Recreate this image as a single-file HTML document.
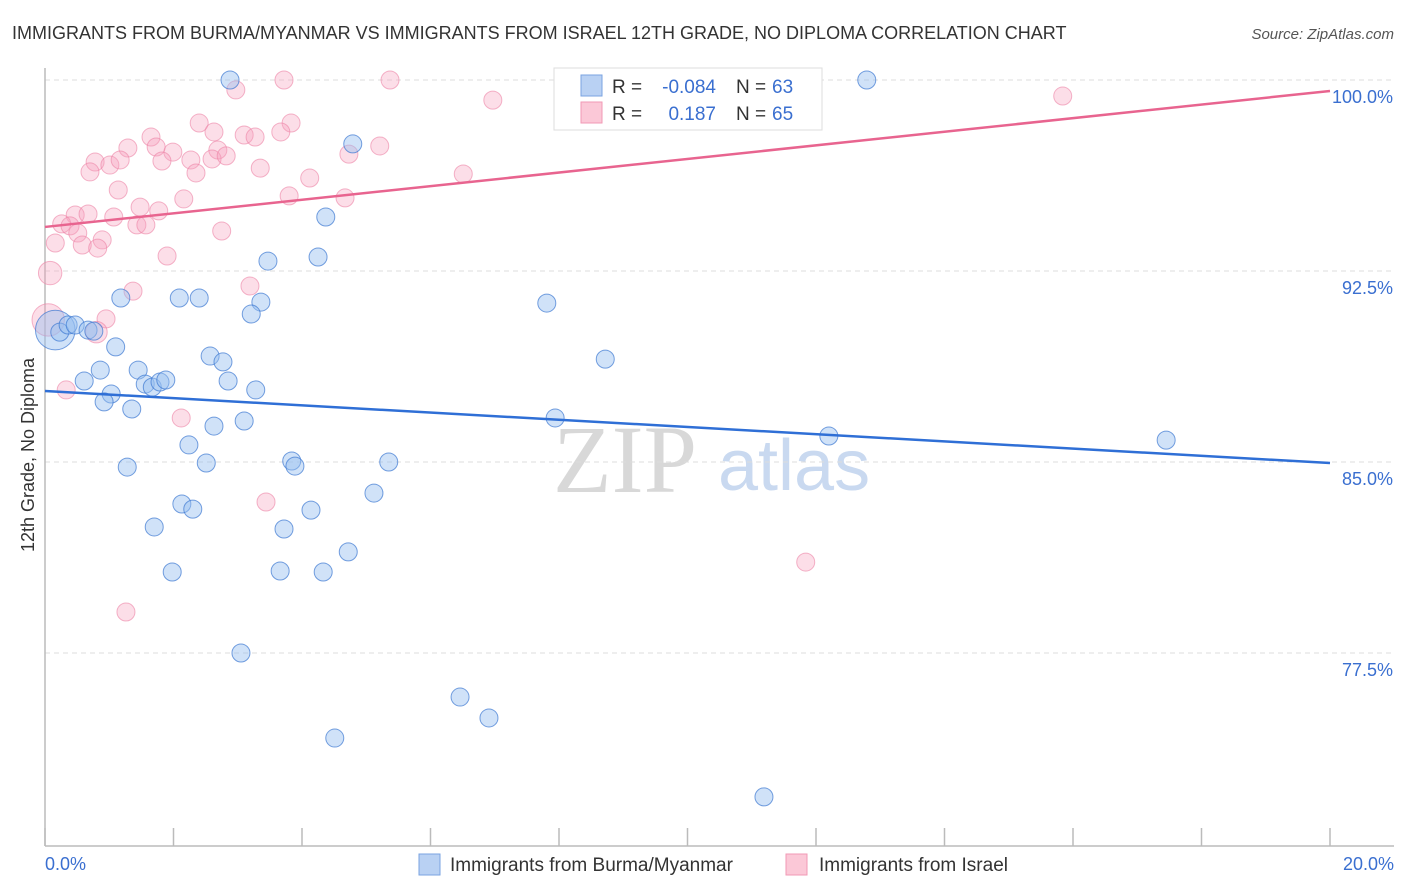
<!DOCTYPE html>
<html><head><meta charset="utf-8">
<style>
body{margin:0;background:#fff;font-family:"Liberation Sans",sans-serif;}
svg{display:block}
</style></head>
<body>
<svg id="chart" width="1406" height="892" xmlns="http://www.w3.org/2000/svg">
<text x="12" y="39" font-size="18" fill="#333">IMMIGRANTS FROM BURMA/MYANMAR VS IMMIGRANTS FROM ISRAEL 12TH GRADE, NO DIPLOMA CORRELATION CHART</text>
<text x="1394" y="39" font-size="15" fill="#555" text-anchor="end" font-style="italic">Source: ZipAtlas.com</text>
<g>
<text x="553" y="492" font-size="96" font-family="Liberation Serif,serif" fill="#d8d8d8">ZIP</text>
<text x="718" y="490" font-size="72" fill="#c9d9f0">atlas</text>
</g>
<g id="grid"></g>
<line x1="45" y1="68" x2="45" y2="846" stroke="#bbb" stroke-width="1.5"/>
<line x1="45" y1="846" x2="1394" y2="846" stroke="#bbb" stroke-width="1.5"/>
<g id="xticks"></g>
<g id="pts"></g>
<g id="trends"></g>
<text transform="translate(34,455) rotate(-90)" font-size="18" fill="#333" text-anchor="middle">12th Grade, No Diploma</text>
<text x="45" y="870" font-size="18" fill="#3a6fd0">0.0%</text>
<text x="1394" y="870" font-size="18" fill="#3a6fd0" text-anchor="end">20.0%</text>
<g>
<rect x="554" y="68" width="268" height="62" fill="#fff" stroke="#ddd"/>
<rect x="581" y="75" width="21" height="21" fill="#b9d1f3" stroke="#7aa3e0"/>
<rect x="581" y="102" width="21" height="21" fill="#fbc8d7" stroke="#f199b4"/>
<text x="612" y="93" font-size="19" fill="#333">R =</text>
<text x="716" y="93" font-size="19" fill="#3a6fd0" text-anchor="end">-0.084</text>
<text x="736" y="93" font-size="19" fill="#333">N =</text>
<text x="772" y="93" font-size="19" fill="#3a6fd0">63</text>
<text x="612" y="120" font-size="19" fill="#333">R =</text>
<text x="716" y="120" font-size="19" fill="#3a6fd0" text-anchor="end">0.187</text>
<text x="736" y="120" font-size="19" fill="#333">N =</text>
<text x="772" y="120" font-size="19" fill="#3a6fd0">65</text>
</g>
<g>
<rect x="419" y="854" width="21" height="21" fill="#b9d1f3" stroke="#7aa3e0"/>
<text x="450" y="871" font-size="19" fill="#333">Immigrants from Burma/Myanmar</text>
<rect x="786" y="854" width="21" height="21" fill="#fbc8d7" stroke="#f199b4"/>
<text x="819" y="871" font-size="19" fill="#333">Immigrants from Israel</text>
</g>
</svg>
<script>
const yTicks=[100,92.5,85,77.5];
const yTickLabels=["100.0%","92.5%","85.0%","77.5%"];
const xTicks=[0,2,4,6,8,10,12,14,16,18,20];
const blueX=[2.88,12.79,4.79,4.37,4.25,3.47,1.18,2.09,2.40,3.36,3.21,7.81,0.16,0.23,0.36,0.47,0.67,0.76,1.10,2.57,2.77,8.72,0.86,1.45,0.61,1.56,1.67,1.79,1.88,2.85,3.28,1.03,0.92,1.35,7.94,2.63,3.10,12.20,17.45,2.24,1.28,2.51,3.84,3.89,5.35,5.12,2.13,2.30,4.14,1.70,3.72,4.72,1.98,3.66,4.33,3.05,6.46,6.91,4.51,11.19];
const blueY=[100,100,97.49,94.62,93.05,92.89,91.44,91.44,91.44,91.28,90.81,91.24,90.18,90.10,90.38,90.38,90.18,90.14,89.52,89.16,88.93,89.04,88.61,88.61,88.18,88.06,87.94,88.14,88.22,88.18,87.83,87.67,87.36,87.08,86.73,86.41,86.61,86.02,85.86,85.67,84.80,84.96,85.04,84.84,85.00,83.78,83.35,83.15,83.11,82.45,82.37,81.47,80.68,80.72,80.68,77.50,75.77,74.95,74.16,71.85];
const blueW=[1,1,1,1,1,1,1,1,1,1,1,1,2.2,1,1,1,1,1,1,1,1,1,1,1,1,1,1,1,1,1,1,1,1,1,1,1,1,1,1,1,1,1,1,1,1,1,1,1,1,1,1,1,1,1,1,1,1,1,1,1];
const pinkX=[3.72,5.37,10.41,10.83,2.97,6.97,15.84,2.40,3.83,1.65,2.63,3.10,3.27,3.67,1.29,1.99,1.73,2.69,4.73,5.21,0.78,1.01,1.17,1.82,2.27,2.60,2.82,0.70,2.35,3.35,1.14,4.12,2.16,3.80,4.67,6.51,1.48,1.77,0.47,0.67,0.26,0.39,1.07,1.43,1.57,0.51,0.89,0.58,0.82,0.16,2.75,1.90,0.08,3.19,1.37,0.95,0.05,0.33,2.12,3.44,11.84,1.26,0.80];
const pinkY=[100,100,100,100,99.61,99.21,99.37,98.31,98.31,97.76,97.96,97.84,97.76,97.96,97.33,97.17,97.37,97.25,97.09,97.41,96.78,96.66,96.86,96.82,96.86,96.90,97.02,96.39,96.35,96.54,95.68,96.15,95.33,95.45,95.37,96.31,95.01,94.86,94.70,94.74,94.35,94.27,94.62,94.31,94.31,93.99,93.72,93.52,93.40,93.60,94.07,93.09,92.42,91.91,91.71,90.62,90.58,87.83,86.73,83.43,81.07,79.11,90.10];
const pinkW=[1,1,1,1,1,1,1,1,1,1,1,1,1,1,1,1,1,1,1,1,1,1,1,1,1,1,1,1,1,1,1,1,1,1,1,1,1,1,1,1,1,1,1,1,1,1,1,1,1,1,1,1,1.3,1,1,1,1.8,1,1,1,1,1,1.2];
const blueTrend=[87.79,84.96];
const pinkTrend=[94.23,99.57];
const NS="http://www.w3.org/2000/svg";
const xs=v=>45+v/20*1285;
const ys=v=>80+(100-v)/7.5*191;
function mk(tag,attrs,parent){const e=document.createElementNS(NS,tag);for(const k in attrs)e.setAttribute(k,attrs[k]);parent.appendChild(e);return e;}
const grid=document.getElementById('grid');
yTicks.forEach((t,i)=>{
 const l=mk('line',{x1:45,x2:1394,y1:ys(t),y2:ys(t),stroke:'#ddd','stroke-dasharray':'5,4'},grid);
 
 
 const tx=mk('text',{x:1393,y:ys(t)+23,'font-size':18,fill:'#3a6fd0','text-anchor':'end'},grid);
 tx.textContent=yTickLabels[i];
 
 
});
const xt=document.getElementById('xticks');
xTicks.forEach(t=>{
 const l=mk('line',{x1:xs(t),x2:xs(t),y1:828,y2:846,stroke:'#bbb','stroke-width':1.5},xt);
 
 
});
const pts=document.getElementById('pts');
pinkX.forEach((v,i)=>{
 const c=mk('circle',{cx:xs(v),cy:ys(pinkY[i]),r:9*pinkW[i],fill:'rgba(247,160,188,0.35)',stroke:'rgba(236,130,165,0.6)','stroke-width':1},pts);
 
 
});
blueX.forEach((v,i)=>{
 const c=mk('circle',{cx:xs(v),cy:ys(blueY[i]),r:9*blueW[i],fill:'rgba(150,190,240,0.45)',stroke:'rgba(60,120,210,0.7)','stroke-width':1},pts);
 
 
});
const tr=document.getElementById('trends');
const bl=mk('line',{x1:xs(0),y1:ys(blueTrend[0]),x2:xs(20),y2:ys(blueTrend[1]),stroke:'#2f6fd6','stroke-width':2.5},tr);


const pl=mk('line',{x1:xs(0),y1:ys(pinkTrend[0]),x2:xs(20),y2:ys(pinkTrend[1]),stroke:'#e8648f','stroke-width':2.5},tr);


</script>
</body></html>
